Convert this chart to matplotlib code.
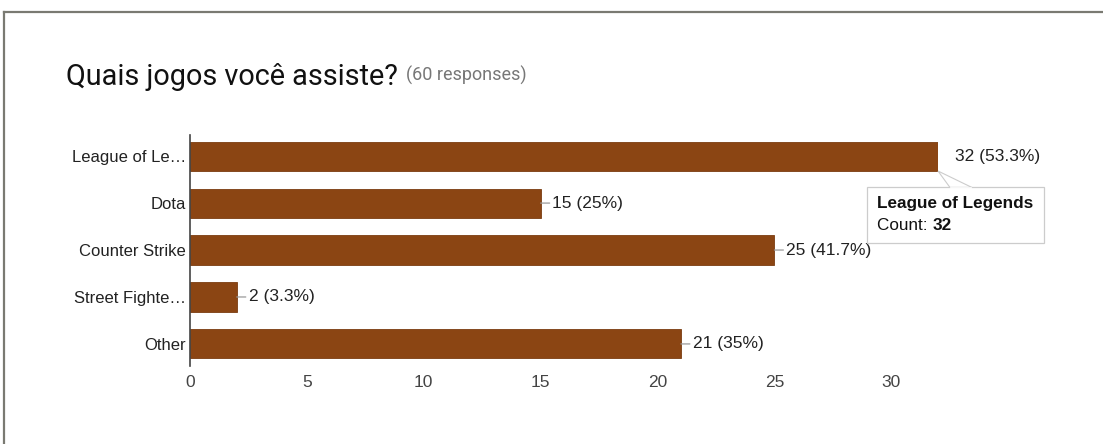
import matplotlib
matplotlib.use("Agg")
import matplotlib.pyplot as plt
from matplotlib.lines import Line2D
from matplotlib.patches import Rectangle, Polygon

plt.rcParams['font.family'] = ['Liberation Sans', 'DejaVu Sans']

categories = ["League of Le…", "Dota", "Counter Strike", "Street Fighte…", "Other"]
counts = [32, 15, 25, 2, 21]
total_responses = 60
x_ticks = [0, 5, 10, 15, 20, 25, 30]
title = "Quais jogos você assiste?"
subtitle = "(60 responses)"
tooltip_name = "League of Legends"

W, H = 1103, 444
fig = plt.figure(figsize=(W / 100, H / 100), dpi=100)

def fx(px):
    return px / W

def fy(py):
    return 1 - py / H

# outer frame (top + left border)
fig.add_artist(Line2D([fx(4), 1.0], [fy(12), fy(12)], color="#7a7a72", lw=1.6))
fig.add_artist(Line2D([fx(4), fx(4)], [fy(12), 0.0], color="#7a7a72", lw=1.6))

# title
fig.text(fx(66), fy(77), title, fontsize=20.8, color="#111111", va="center", ha="left",
         family=["Roboto", "DejaVu Sans"])
fig.text(fx(406), fy(75), subtitle, fontsize=13, color="#777777", va="center", ha="left",
         family=["Roboto", "DejaVu Sans"])

ax = fig.add_axes([fx(190), fy(366), (938 - 190) / W, (366 - 135) / H])
y = list(range(len(categories)))
ax.barh(y, counts, height=0.62, color="#8B4513", edgecolor="#7a3c10", linewidth=0.6)
ax.set_xlim(0, 32)
ax.set_ylim(4.47, -0.45)

for s in ["top", "right", "bottom"]:
    ax.spines[s].set_visible(False)
ax.spines["left"].set_color("#444444")
ax.spines["left"].set_linewidth(1.2)

ax.set_yticks(y)
ax.set_yticklabels(categories, fontsize=12, color="#222222")
ax.set_xticks(x_ticks)
ax.set_xticklabels([str(t) for t in x_ticks], fontsize=12.5, color="#444444")
ax.tick_params(axis="both", length=0)
ax.tick_params(axis="x", pad=6.5)
ax.tick_params(axis="y", pad=3)

for i, c in enumerate(counts):
    pct = round(c / total_responses * 100, 1)
    label = f"{c} ({pct:g}%)"
    if i == 0:
        ax.annotate(label, (c, i), xytext=(12, 0), textcoords="offset points",
                    va="center", ha="left", fontsize=12.5, color="#222222")
    else:
        ax.annotate(label, (c, i), xytext=(8.5, 0), textcoords="offset points",
                    va="center", ha="left", fontsize=12.5, color="#222222",
                    arrowprops=dict(arrowstyle="-", color="#999999", lw=0.9,
                                    shrinkA=0, shrinkB=0))

# tooltip
ptr = Polygon([[fx(938), fy(171)], [fx(950), fy(187.5)], [fx(972), fy(187.5)]],
              closed=True, transform=fig.transFigure, facecolor="white",
              edgecolor="#cccccc", lw=0.8, zorder=5)
fig.add_artist(ptr)
box = Rectangle((fx(867), fy(243)), (1044 - 867) / W, (243 - 187) / H,
                transform=fig.transFigure, facecolor="white", edgecolor="#cccccc",
                lw=0.9, zorder=6)
fig.add_artist(box)
fig.add_artist(Line2D([fx(951), fx(971)], [fy(187.5), fy(187.5)], color="white", lw=1.2, zorder=7))
fig.text(fx(877), fy(203), tooltip_name, fontsize=12.3, fontweight="bold", color="#111111",
         va="center", ha="left", zorder=8)
t1 = fig.text(fx(877), fy(225), "Count: ", fontsize=12.3, color="#111111", va="center", ha="left", zorder=8)
fig.canvas.draw()
bb = t1.get_window_extent()
fig.text(bb.x1 / W, fy(225), str(counts[0]), fontsize=12.3, fontweight="bold", color="#111111",
         va="center", ha="left", zorder=8)

fig.savefig("out.png", dpi=100)
